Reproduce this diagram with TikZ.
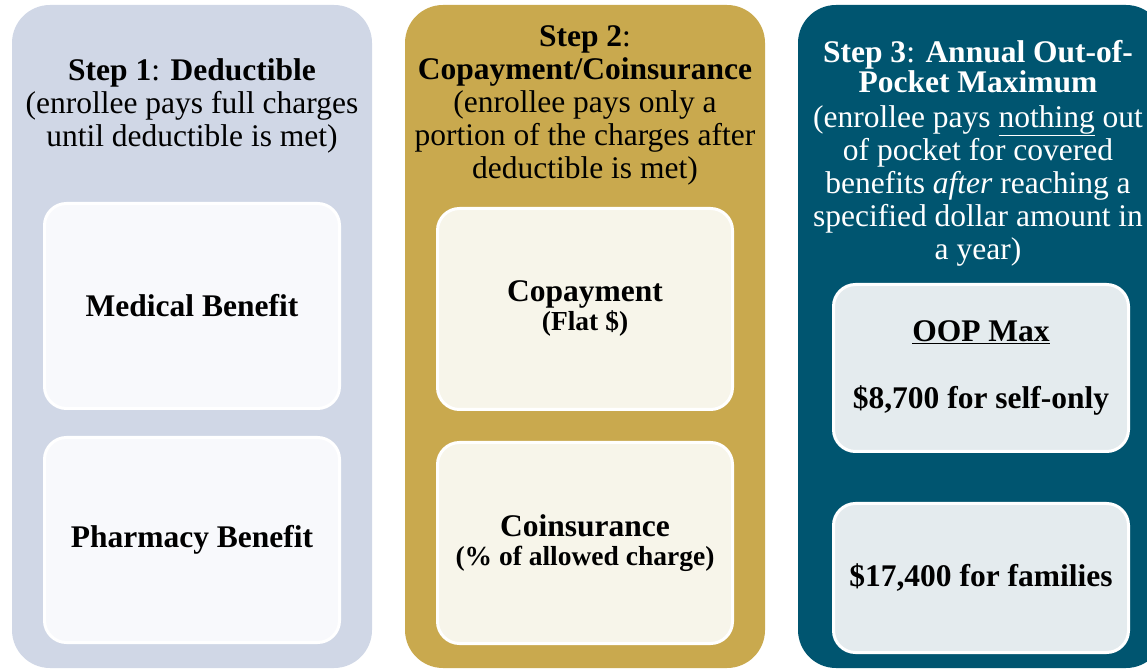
\documentclass[tikz,border=0pt]{standalone}
\usepackage{fontspec}
\setmainfont{Liberation Serif}
\definecolor{dedbg}{HTML}{D0D7E6}
\definecolor{dedin}{HTML}{F8F9FC}
\definecolor{copaybg}{HTML}{C9A94E}
\definecolor{copayin}{HTML}{F7F5EA}
\definecolor{oopbg}{HTML}{005570}
\definecolor{oopin}{HTML}{E4EBEE}
\begin{document}
\begin{tikzpicture}[x=1pt,y=1pt,
    column/.style={rounded corners=38pt, minimum width=360pt, minimum height=663pt, inner sep=0pt},
    header/.style={anchor=north, inner sep=0pt, align=center, font=\fontsize{31.5}{33}\selectfont},
    benefit/.style={draw=white, line width=3pt, rounded corners=22pt, minimum width=295pt,
      align=center, font=\fontsize{31.5}{33}\selectfont\bfseries}]
  \useasboundingbox (0,0) rectangle (1147,669);
  % columns
  \node[column, fill=dedbg] (col1) at (192,332.5) {};
  \node[column, fill=copaybg] (col2) at (585,332.5) {};
  \node[column, fill=oopbg, minimum width=366pt] (col3) at (981,332.5) {};
  % headers
  \node[header] (head1) at (192,611) {\textbf{Step 1}: \textbf{Deductible}\\(enrollee pays full charges\\until deductible is met)};
  \node[header] (head2) at (585,644) {\textbf{Step 2}:\\\textbf{Copayment/Coinsurance}\\(enrollee pays only a\\portion of the charges after\\deductible is met)};
  \node[header, text=white] (head3) at (978,629) {\textbf{Step 3}: \textbf{Annual Out-of-}\\[-3pt]\textbf{Pocket Maximum}\\[2pt](enrollee pays \underline{nothing} out\\of pocket for covered\\benefits \textit{after} reaching a\\specified dollar amount in\\a year)};
  % step 1
  \node[benefit, fill=dedin, minimum height=205pt] (medical) at (192,363) {Medical Benefit};
  \node[benefit, fill=dedin, minimum height=205pt] (pharmacy) at (192,129) {Pharmacy Benefit};
  % step 2
  \node[benefit, fill=copayin, minimum height=201pt] (copay) at (585,360) {Copayment\\[-4pt]{\fontsize{27.5}{30}\selectfont(Flat \$)}};
  \node[benefit, fill=copayin, minimum height=201pt] (coins) at (585,126) {Coinsurance\\[-4pt]{\fontsize{27.5}{30}\selectfont(\% of allowed charge)}};
  % step 3
  \node[benefit, fill=oopin, minimum height=167pt] (self) at (981,301) {\underline{OOP Max}\\[34pt]\$8,700 for self-only};
  \node[benefit, fill=oopin, minimum height=149pt] (family) at (981,91) {\$17,400 for families};
\end{tikzpicture}
\end{document}
